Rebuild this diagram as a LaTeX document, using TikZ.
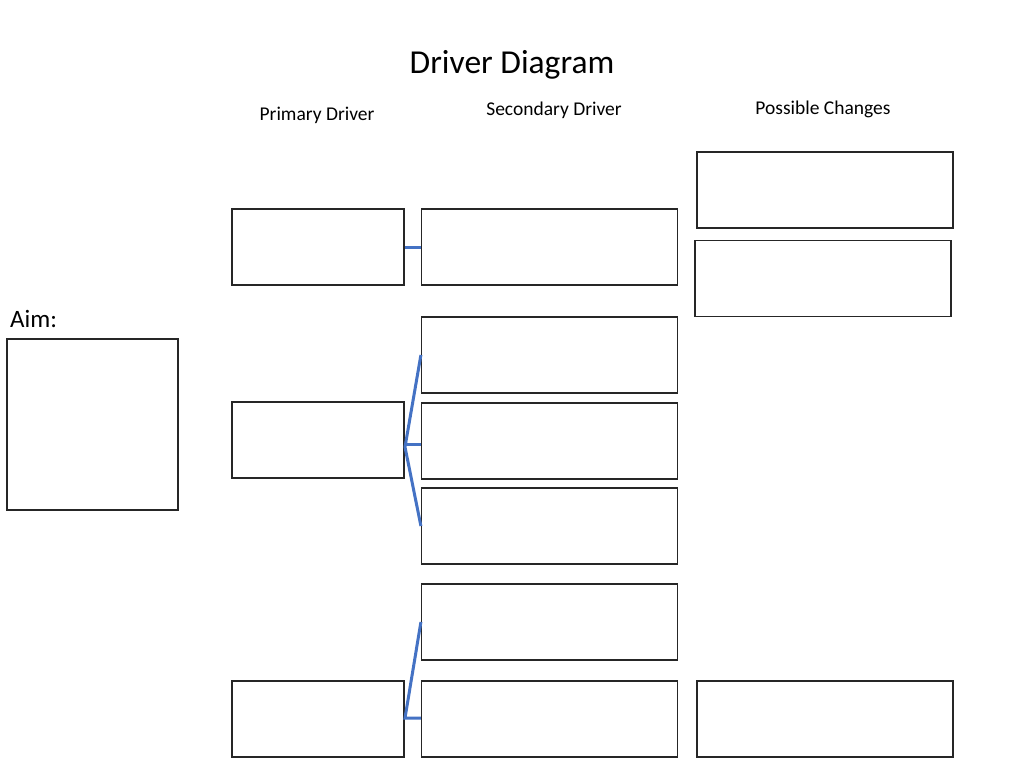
\documentclass[tikz,border=0pt]{standalone}
\usepackage{fontspec}
\setmainfont{Carlito}
\begin{document}
\begin{tikzpicture}[x=1pt,y=-1pt,
  box/.style={draw=black!85, line width=1.2pt, inner sep=0pt, minimum width=#1},
  box/.default=256pt,
  link/.style={color={rgb,255:red,68;green,114;blue,196}, line width=3pt},
  head/.style={font=\fontsize{19.5}{22}\selectfont, inner sep=0pt}]
\useasboundingbox (0,0) rectangle (1024,768);
\node[font=\fontsize{33.5}{38}\selectfont, inner sep=0pt] (title) at (512,65) {Driver Diagram};
\node[head] (hp) at (317,115) {Primary Driver};
\node[head] (hs) at (554,110) {Secondary Driver};
\node[head] (hc) at (823,109) {Possible Changes};
\node[font=\fontsize{25}{28}\selectfont, inner sep=0pt, anchor=west] (aimt) at (10,319) {Aim:};
% aim box
\node[box=171pt, minimum height=171pt] (aim) at (92.5,424.5) {};
% primary drivers
\node[box=172pt, minimum height=76pt] (p1) at (318,247) {};
\node[box=172pt, minimum height=76pt] (p2) at (318,440) {};
\node[box=172pt, minimum height=76pt] (p3) at (318,719) {};
% secondary drivers
\node[box, minimum height=76pt] (s1) at (549.5,247) {};
\node[box, minimum height=76pt] (s2) at (549.5,355) {};
\node[box, minimum height=76pt] (s3) at (549.5,441) {};
\node[box, minimum height=76pt] (s4) at (549.5,526) {};
\node[box, minimum height=76pt] (s5) at (549.5,622) {};
\node[box, minimum height=76pt] (s6) at (549.5,719) {};
% possible changes
\node[box, minimum height=76pt] (c1) at (825,190) {};
\node[box, minimum height=76pt] (c2) at (823,278.5) {};
\node[box, minimum height=76pt] (c3) at (825,719) {};
% connectors
\coordinate (j2) at (405,447);
\coordinate (h2) at (405,444);
\coordinate (j3) at (405,718);
\draw[link] (p1.east) -- (s1.west);
\draw[link] (s2.west) -- (j2) -- (s4.west);
\draw[link] (h2) -- (h2 -| s3.west);
\draw[link] (s5.west) -- (j3) -- (j3 -| s6.west);
\end{tikzpicture}
\end{document}
